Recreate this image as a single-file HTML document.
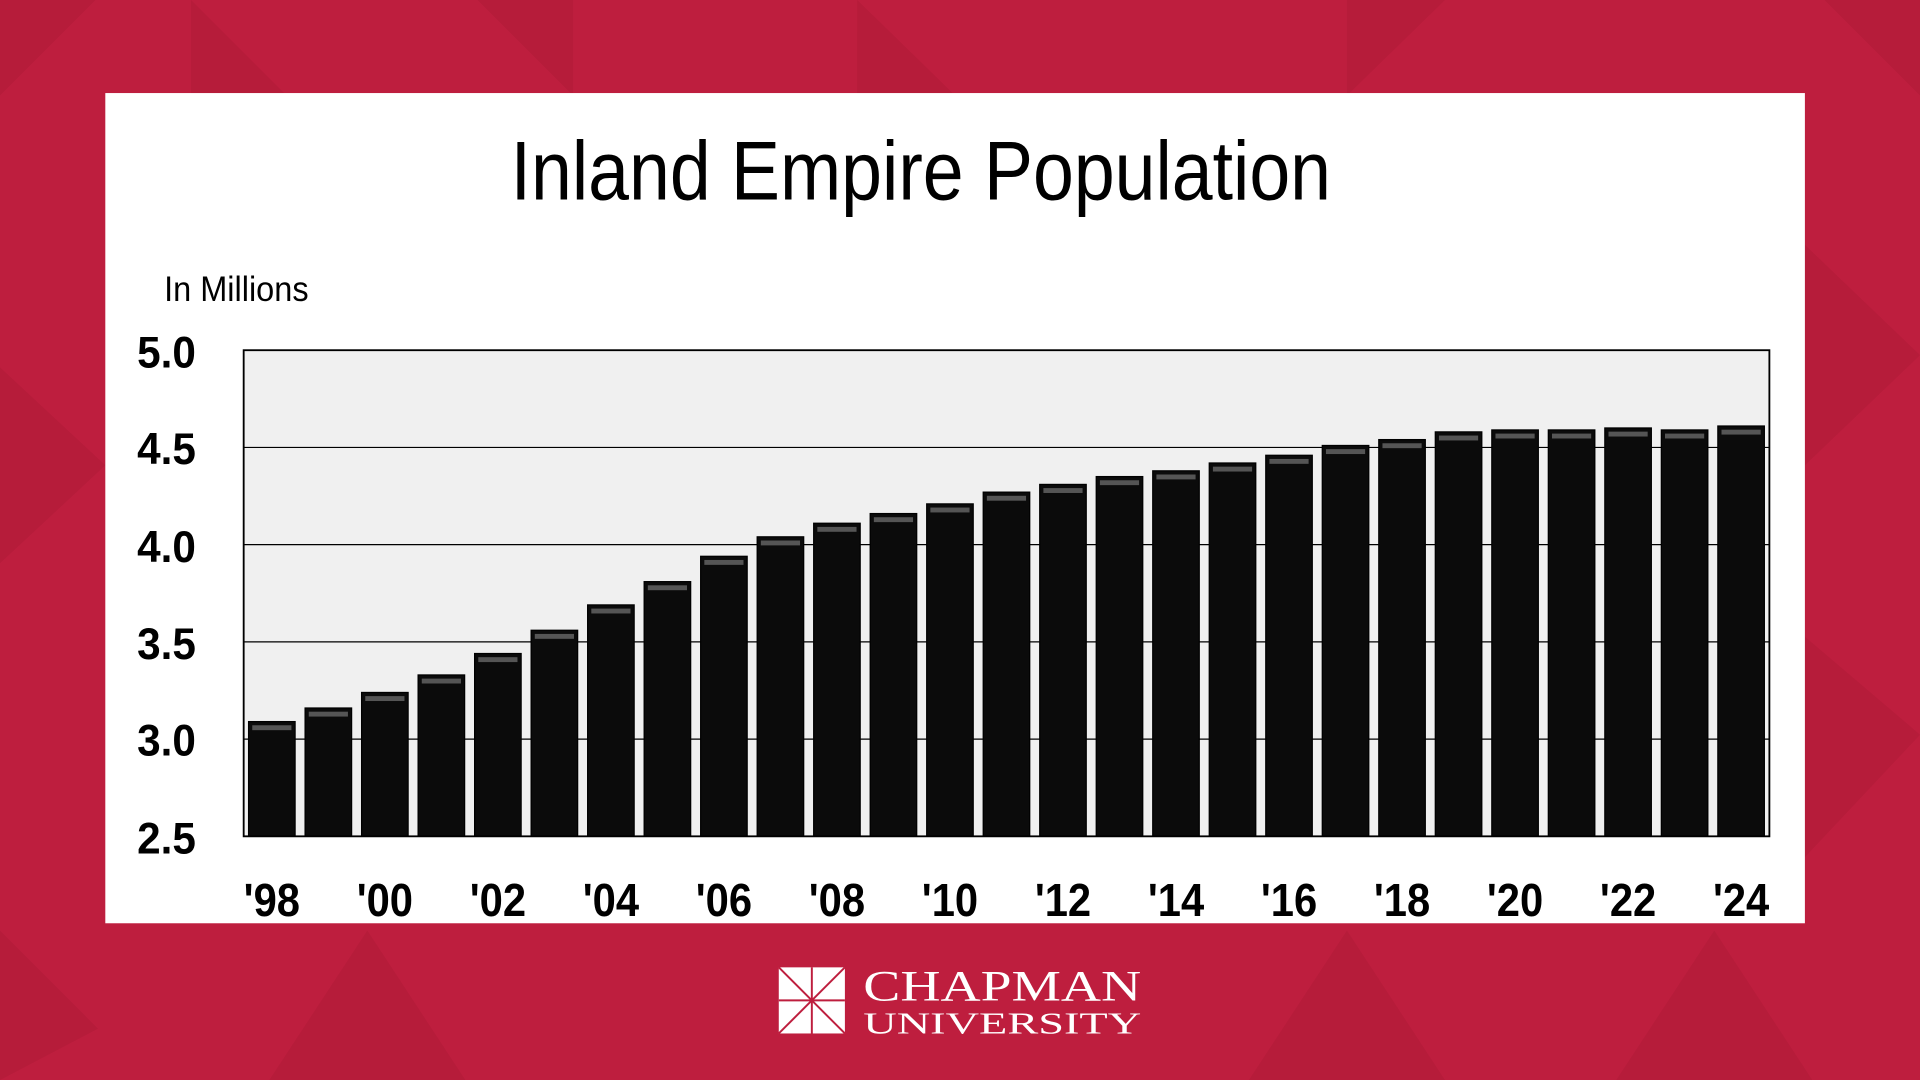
<!DOCTYPE html>
<html><head><meta charset="utf-8"><style>
html,body{margin:0;padding:0;background:#be1e3e;}
svg{display:block}
</style></head><body>
<svg width="1920" height="1080" viewBox="0 0 1568 882" preserveAspectRatio="none" xmlns="http://www.w3.org/2000/svg">
<rect width="1568" height="882" fill="#be1e3e"/>
<g fill="#b01a38" opacity="0.6">
<polygon points="0,0 78,0 0,78"/><polygon points="156,0 234,78 156,78"/><polygon points="390,0 468,0 468,78"/>
<polygon points="700,0 780,78 700,78"/><polygon points="1100,0 1180,0 1100,78"/><polygon points="1490,0 1568,0 1568,78"/>
<polygon points="0,300 86,380 0,460"/><polygon points="1474,200 1568,290 1474,380"/><polygon points="1474,520 1568,600 1474,700"/>
<polygon points="0,760 80,840 0,882"/><polygon points="300,760 380,882 220,882"/><polygon points="1100,760 1180,882 1020,882"/><polygon points="1400,760 1480,882 1320,882"/>
</g>
<rect x="86" y="76" width="1388" height="678" fill="#fff"/>
<text x="752" y="163" font-family="Liberation Sans, sans-serif" font-size="68" text-anchor="middle" textLength="670" lengthAdjust="spacingAndGlyphs">Inland Empire Population</text>
<text x="134" y="246" font-family="Liberation Sans, sans-serif" font-size="29" textLength="118" lengthAdjust="spacingAndGlyphs">In Millions</text>
<rect x="199" y="286" width="1246" height="397" fill="#f0f0f0"/>
<g stroke="#000" stroke-width="1">
<line x1="199" x2="1445" y1="365.4" y2="365.4"/><line x1="199" x2="1445" y1="444.8" y2="444.8"/>
<line x1="199" x2="1445" y1="524.2" y2="524.2"/><line x1="199" x2="1445" y1="603.6" y2="603.6"/>
</g>
<g fill="#0b0b0b" stroke="#000">
<rect x="203" y="589.3" width="38" height="93.7"/>
<rect x="249.15" y="578.2" width="38" height="104.8"/>
<rect x="295.3" y="565.5" width="38" height="117.5"/>
<rect x="341.45" y="551.2" width="38" height="131.8"/>
<rect x="387.6" y="533.7" width="38" height="149.3"/>
<rect x="433.75" y="514.7" width="38" height="168.3"/>
<rect x="479.9" y="494" width="38" height="189"/>
<rect x="526.05" y="475" width="38" height="208"/>
<rect x="572.2" y="454.3" width="38" height="228.7"/>
<rect x="618.35" y="438.4" width="38" height="244.6"/>
<rect x="664.5" y="427.3" width="38" height="255.7"/>
<rect x="710.65" y="419.4" width="38" height="263.6"/>
<rect x="756.8" y="411.5" width="38" height="271.5"/>
<rect x="802.95" y="401.9" width="38" height="281.1"/>
<rect x="849.1" y="395.6" width="38" height="287.4"/>
<rect x="895.25" y="389.2" width="38" height="293.8"/>
<rect x="941.4" y="384.5" width="38" height="298.5"/>
<rect x="987.55" y="378.1" width="38" height="304.9"/>
<rect x="1033.7" y="371.8" width="38" height="311.2"/>
<rect x="1079.85" y="363.8" width="38" height="319.2"/>
<rect x="1126" y="359" width="38" height="324"/>
<rect x="1172.15" y="352.7" width="38" height="330.3"/>
<rect x="1218.3" y="351.1" width="38" height="331.9"/>
<rect x="1264.45" y="351.1" width="38" height="331.9"/>
<rect x="1310.6" y="349.5" width="38" height="333.5"/>
<rect x="1356.75" y="351.1" width="38" height="331.9"/>
<rect x="1402.9" y="347.9" width="38" height="335.1"/>
</g>
<g fill="#555">
<rect x="206" y="592.3" width="32" height="4"/>
<rect x="252.15" y="581.2" width="32" height="4"/>
<rect x="298.3" y="568.5" width="32" height="4"/>
<rect x="344.45" y="554.2" width="32" height="4"/>
<rect x="390.6" y="536.7" width="32" height="4"/>
<rect x="436.75" y="517.7" width="32" height="4"/>
<rect x="482.9" y="497" width="32" height="4"/>
<rect x="529.05" y="478" width="32" height="4"/>
<rect x="575.2" y="457.3" width="32" height="4"/>
<rect x="621.35" y="441.4" width="32" height="4"/>
<rect x="667.5" y="430.3" width="32" height="4"/>
<rect x="713.65" y="422.4" width="32" height="4"/>
<rect x="759.8" y="414.5" width="32" height="4"/>
<rect x="805.95" y="404.9" width="32" height="4"/>
<rect x="852.1" y="398.6" width="32" height="4"/>
<rect x="898.25" y="392.2" width="32" height="4"/>
<rect x="944.4" y="387.5" width="32" height="4"/>
<rect x="990.55" y="381.1" width="32" height="4"/>
<rect x="1036.7" y="374.8" width="32" height="4"/>
<rect x="1082.85" y="366.8" width="32" height="4"/>
<rect x="1129" y="362" width="32" height="4"/>
<rect x="1175.15" y="355.7" width="32" height="4"/>
<rect x="1221.3" y="354.1" width="32" height="4"/>
<rect x="1267.45" y="354.1" width="32" height="4"/>
<rect x="1313.6" y="352.5" width="32" height="4"/>
<rect x="1359.75" y="354.1" width="32" height="4"/>
<rect x="1405.9" y="350.9" width="32" height="4"/>
</g>
<rect x="199" y="286" width="1246" height="397" fill="none" stroke="#000" stroke-width="1.5"/>
<g font-family="Liberation Sans, sans-serif" font-weight="bold" font-size="36" text-anchor="end">
<text x="160" y="300" textLength="48" lengthAdjust="spacingAndGlyphs">5.0</text>
<text x="160" y="379" textLength="48" lengthAdjust="spacingAndGlyphs">4.5</text>
<text x="160" y="459" textLength="48" lengthAdjust="spacingAndGlyphs">4.0</text>
<text x="160" y="538" textLength="48" lengthAdjust="spacingAndGlyphs">3.5</text>
<text x="160" y="617" textLength="48" lengthAdjust="spacingAndGlyphs">3.0</text>
<text x="160" y="697" textLength="48" lengthAdjust="spacingAndGlyphs">2.5</text>
</g>
<g font-family="Liberation Sans, sans-serif" font-weight="bold" font-size="38" text-anchor="middle">
<text x="222" y="748" textLength="46" lengthAdjust="spacingAndGlyphs">'98</text>
<text x="314.3" y="748" textLength="46" lengthAdjust="spacingAndGlyphs">'00</text>
<text x="406.6" y="748" textLength="46" lengthAdjust="spacingAndGlyphs">'02</text>
<text x="498.9" y="748" textLength="46" lengthAdjust="spacingAndGlyphs">'04</text>
<text x="591.2" y="748" textLength="46" lengthAdjust="spacingAndGlyphs">'06</text>
<text x="683.5" y="748" textLength="46" lengthAdjust="spacingAndGlyphs">'08</text>
<text x="775.8" y="748" textLength="46" lengthAdjust="spacingAndGlyphs">'10</text>
<text x="868.1" y="748" textLength="46" lengthAdjust="spacingAndGlyphs">'12</text>
<text x="960.4" y="748" textLength="46" lengthAdjust="spacingAndGlyphs">'14</text>
<text x="1052.7" y="748" textLength="46" lengthAdjust="spacingAndGlyphs">'16</text>
<text x="1145" y="748" textLength="46" lengthAdjust="spacingAndGlyphs">'18</text>
<text x="1237.3" y="748" textLength="46" lengthAdjust="spacingAndGlyphs">'20</text>
<text x="1329.6" y="748" textLength="46" lengthAdjust="spacingAndGlyphs">'22</text>
<text x="1421.9" y="748" textLength="46" lengthAdjust="spacingAndGlyphs">'24</text>
</g>
<rect x="636" y="790" width="54" height="54" fill="#fff"/>
<g stroke="#be1e3e" stroke-width="1.6">
<line x1="636" y1="790" x2="690" y2="844"/><line x1="690" y1="790" x2="636" y2="844"/>
<line x1="663" y1="790" x2="663" y2="844"/><line x1="636" y1="817" x2="690" y2="817"/>
</g>
<text x="705" y="817" fill="#fff" font-family="Liberation Serif, serif" font-size="35" textLength="227" lengthAdjust="spacingAndGlyphs">CHAPMAN</text>
<text x="705" y="844" fill="#fff" font-family="Liberation Serif, serif" font-size="25" textLength="227" lengthAdjust="spacingAndGlyphs">UNIVERSITY</text>
</svg>
</body></html>
